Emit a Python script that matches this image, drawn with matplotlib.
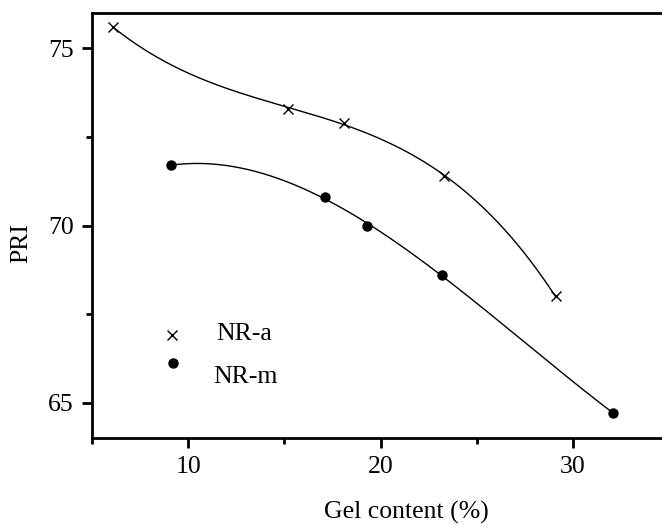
import numpy as np
import matplotlib
matplotlib.use("Agg")
import matplotlib.pyplot as plt
from matplotlib.ticker import MultipleLocator

plt.rcParams.update({
    "font.family": ["Liberation Serif", "DejaVu Serif"],
    "font.size": 18.5,
})

# gel content (%) vs plasticity retention index
gel_a = [6.1, 15.2, 18.1, 23.3, 29.1]
pri_a = [75.6, 73.3, 72.9, 71.4, 68.0]

gel_m = [9.1, 17.1, 19.3, 23.2, 32.1]
pri_m = [71.7, 70.8, 70.0, 68.6, 64.7]


def trend(x, y, deg=3, n=300):
    """Smooth polynomial trend line over the data range."""
    c = np.polyfit(x, y, deg)
    xs = np.linspace(min(x), max(x), n)
    return xs, np.polyval(c, xs)


fig = plt.figure(figsize=(6.62, 5.25), dpi=100)
ax = fig.add_axes([0.139, 0.1657, 0.8716, 0.8095])

for gx, py in [(gel_a, pri_a), (gel_m, pri_m)]:
    xs, ys = trend(gx, py)
    ax.plot(xs, ys, color="black", lw=1.0)

ax.plot(gel_a, pri_a, ls="none", marker="x", ms=7, mew=1.0, color="black")
ax.plot(gel_m, pri_m, ls="none", marker="o", ms=6.5, color="black")

# key, drawn by hand in axes coordinates
ax.plot([0.138], [0.242], transform=ax.transAxes, ls="none", marker="x",
        ms=7, mew=1.0, color="black", clip_on=False)
ax.text(0.216, 0.245, "NR-a", transform=ax.transAxes, va="center", ha="left")
ax.plot([0.140], [0.176], transform=ax.transAxes, ls="none", marker="o",
        ms=6.5, color="black", clip_on=False)
ax.text(0.210, 0.144, "NR-m", transform=ax.transAxes, va="center", ha="left")

ax.set_xlim(5, 35)
ax.set_ylim(64, 76)
ax.xaxis.set_major_locator(MultipleLocator(10))
ax.xaxis.set_minor_locator(MultipleLocator(5))
ax.yaxis.set_major_locator(MultipleLocator(5))
ax.yaxis.set_minor_locator(MultipleLocator(2.5))
ax.tick_params(which="major", length=7, width=2, pad=6)
ax.tick_params(which="minor", length=4, width=2)
ax.tick_params(top=False, right=False)

for s in ax.spines.values():
    s.set_linewidth(2)
ax.spines["right"].set_visible(False)

ax.set_xlabel("Gel content (%)")
ax.set_ylabel("PRI")
ax.xaxis.set_label_coords(0.544, -0.147)
ax.yaxis.set_label_coords(-0.104, 0.46)

fig.savefig("out.png", dpi=100)
